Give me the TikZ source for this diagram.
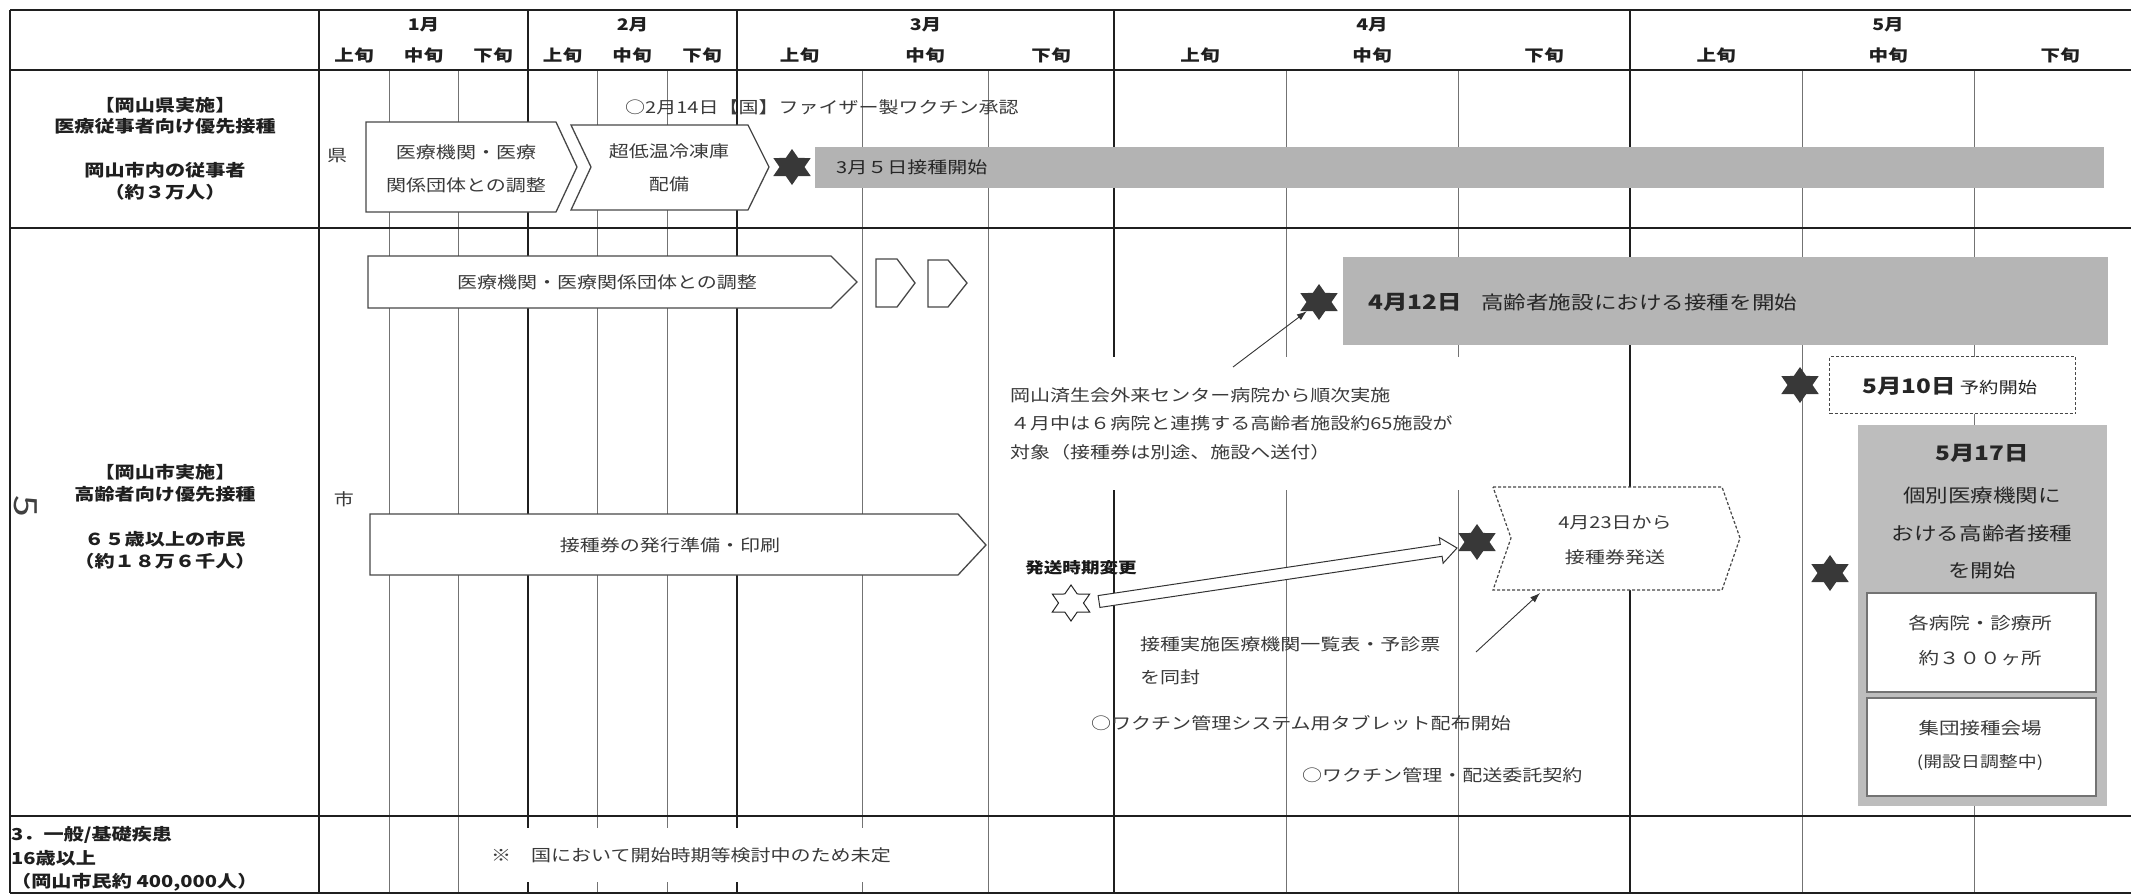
\documentclass[tikz,border=0pt]{standalone}
\usepackage{fontspec}
\setmainfont{Noto Sans CJK JP}[FakeStretch=1.22]
\usetikzlibrary{shapes.geometric,calc,arrows.meta}
\definecolor{barfill}{HTML}{B3B3B3}
\definecolor{boxtwo}{HTML}{B5B5B5}
\definecolor{boxthree}{HTML}{BDBDBD}
\definecolor{txtg}{HTML}{3A3A3A}
\definecolor{starc}{HTML}{383838}
\begin{document}
\begin{tikzpicture}[x=1pt,y=-1pt,
  hline/.style={line width=2.4pt, black!88},
  mline/.style={line width=2pt, black!88},
  sline/.style={line width=0.9pt, black!55},
  hdr/.style={inner sep=0pt, font=\fontsize{16}{18}\selectfont\bfseries, text=black!88},
  lbl/.style={inner sep=0pt, font=\fontsize{16.5}{20}\selectfont\bfseries, text=black!88},
  plain/.style={inner sep=0pt, font=\fontsize{16.4}{20}\selectfont, text=txtg},
  note/.style={inner sep=0pt, font=\fontsize{16.4}{20}\selectfont, text=txtg, anchor=west},
  chev/.style={draw=black!72, line width=1.3pt, fill=white, line join=miter},
  dashchev/.style={draw=black!72, line width=1.2pt, fill=white, dash pattern=on 3pt off 2pt},
  chevtxt/.style={inner sep=0pt, font=\fontsize{16.4}{33}\selectfont, text=txtg, align=center},
  hexstar/.style={star, star points=6, star point ratio=1.73, minimum size=36pt, inner sep=0pt, fill=starc, xscale=1.2},
  boxnode/.style={inner sep=0pt, anchor=north west},
  inbox/.style={boxnode, draw=black!55, line width=1.6pt, fill=white},
  bigtxt/.style={inner sep=0pt, font=\fontsize{18.5}{22}\selectfont, text=black!85},
  datetxt/.style={inner sep=0pt, font=\fontsize{20}{24}\selectfont\bfseries, text=black!85},
  thinarrow/.style={-{Latex[length=10pt,width=7pt]}, line width=0.9pt, black!80}
]
\useasboundingbox (0,0) rectangle (2131,895);
\fill[white] (0,0) rectangle (2131,895);

% ---------- table grid ----------
\foreach \x in {389,458,597,667,862,988,1286,1458,1802,1974}
  \draw[sline] (\x,70) -- (\x,893);
\foreach \x in {10,319,528,737,1114,1630}
  \draw[mline] (\x,10) -- (\x,893);
\foreach \y in {10,70,228,816,893}
  \draw[hline] (10,\y) -- (2131,\y);

% ---------- header ----------
\node[hdr] (m1) at (423.5,25) {1月};
\node[hdr] (m2) at (632.5,25) {2月};
\node[hdr] (m3) at (925.5,25) {3月};
\node[hdr] (m4) at (1372,25) {4月};
\node[hdr] (m5) at (1888,25) {5月};
\foreach \x/\t [count=\i] in {354/上旬,423.5/中旬,493/下旬,562.5/上旬,632/中旬,702/下旬,
   799.5/上旬,925/中旬,1051/下旬,1200/上旬,1372/中旬,1544/下旬,1716/上旬,1888/中旬,2060/下旬}
  \node[hdr] (j\i) at (\x,55) {\t};

% ---------- row labels ----------
\node[lbl] (r1a) at (165,105) {【岡山県実施】};
\node[lbl] (r1b) at (165,126) {医療従事者向け優先接種};
\node[lbl] (r1c) at (165,170) {岡山市内の従事者};
\node[lbl] (r1d) at (165,192) {（約３万人）};
\node[lbl] (r2a) at (165,472) {【岡山市実施】};
\node[lbl] (r2b) at (165,494) {高齢者向け優先接種};
\node[lbl] (r2c) at (165,539) {６５歳以上の市民};
\node[lbl] (r2d) at (165,561) {（約１８万６千人）};
\node[lbl, anchor=west] (r3a) at (11,835) {3．一般/基礎疾患};
\node[lbl, anchor=west] (r3b) at (11,858) {16歳以上};
\node[lbl, anchor=west] (r3c) at (11,882) {（岡山市民約 400,000人）};
\node[inner sep=0pt, rotate=-90, font=\fontsize{32}{32}\selectfont, text=black!75] (pg) at (26,506) {5};

% ---------- row 1 ----------
\node[plain] (ken) at (337,156) {県};
\node[note] (n214) at (625,107) {○2月14日【国】ファイザー製ワクチン承認};
\draw[chev] (366,122) -- (556,122) -- (577,167) -- (556,212) -- (366,212) -- cycle;
\node[chevtxt] (c1) at (466,168.5) {医療機関・医療\\関係団体との調整};
\draw[chev] (571,125) -- (748,125) -- (769,167) -- (748,210) -- (571,210) -- (591,167) -- cycle;
\node[chevtxt] (c2) at (669,168) {超低温冷凍庫\\配備};
\node[hexstar] (s1) at (792,167) {};
\node[boxnode, fill=barfill, minimum width=1289pt, minimum height=41pt] (bar1) at (815,147) {};
\node[note, text=black!85] (bar1t) at (836,167) {3月５日接種開始};

% ---------- row 2 ----------
\draw[chev] (368,256) -- (831,256) -- (857,282) -- (831,308) -- (368,308) -- cycle;
\node[chevtxt] (c3) at (607,282) {医療機関・医療関係団体との調整};
\draw[chev] (876,259) -- (897,259) -- (915,283) -- (897,307) -- (876,307) -- cycle;
\draw[chev] (928,260) -- (948,260) -- (967,283) -- (948,307) -- (928,307) -- cycle;
\node[plain] (shi) at (344,499) {市};
\draw[chev] (370,514) -- (958,514) -- (986,545) -- (958,575) -- (370,575) -- cycle;
\node[chevtxt] (c4) at (670,545) {接種券の発行準備・印刷};

% box 2 : 4/12
\node[boxnode, fill=boxtwo, minimum width=765pt, minimum height=88pt] (g2) at (1343,257) {};
\node[datetxt, anchor=west] (g2a) at (1368,302) {4月12日};
\node[bigtxt, anchor=west] (g2b) at (1481,302) {高齢者施設における接種を開始};
\node[hexstar] (s2) at (1319,302) {};

% note block
\node[note, fill=white, align=left, minimum height=133pt, inner xsep=7pt,
      font=\fontsize{16.4}{28.5}\selectfont] (t1) at (1003,423.5)
  {岡山済生会外来センター病院から順次実施\\４月中は６病院と連携する高齢者施設約65施設が\\対象（接種券は別途、施設へ送付）};
\coordinate (a1s) at (1233,367);
\draw[thinarrow] (a1s) -- (s2);

% 5/10 dashed box
\node[boxnode, draw=black!72, line width=1.2pt, dash pattern=on 3pt off 2pt, fill=white,
      minimum width=246pt, minimum height=57pt] (d1) at (1829,356) {};
\node[datetxt] (d1a) at (1909,386) {5月10日};
\node[plain, text=black!85, font=\fontsize{15.8}{18}\selectfont] (d1b) at (1998.5,388) {予約開始};
\node[hexstar] (s3) at (1800,385) {};

% box 3 : 5/17
\node[boxnode, fill=boxthree, minimum width=249pt, minimum height=381pt] (g3) at (1858,425) {};
\node[datetxt] (g3a) at (1982,453) {5月17日};
\node[bigtxt] (g3b) at (1982,495) {個別医療機関に};
\node[bigtxt] (g3c) at (1982,533) {おける高齢者接種};
\node[bigtxt] (g3d) at (1982,570) {を開始};
\node[inbox, minimum width=229pt, minimum height=99pt] (ba) at (1866,592) {};
\node[inbox, minimum width=229pt, minimum height=98pt] (bb) at (1866,697) {};
\node[plain, font=\fontsize{16.8}{20}\selectfont] (bat1) at (1980,623) {各病院・診療所};
\node[plain, font=\fontsize{16.8}{20}\selectfont] (bat2) at (1980,658) {約３００ヶ所};
\node[plain, font=\fontsize{16.8}{20}\selectfont] (bbt1) at (1980,728) {集団接種会場};
\node[plain, font=\fontsize{15.5}{20}\selectfont] (bbt2) at (1980,762) {(開設日調整中)};
\node[hexstar] (s4) at (1830,573) {};

% dashed chevron 4/23
\draw[dashchev] (1493,487) -- (1722,487) -- (1740,538) -- (1722,590) -- (1493,590) -- (1511,538) -- cycle;
\node[plain] (dc1) at (1615,523) {4月23日から};
\node[plain] (dc2) at (1615,557) {接種券発送};
\node[hexstar] (s5) at (1477,542) {};

% hollow star and block arrow
\node[hexstar, fill=white, draw=black!85, line width=1pt] (hs) at (1071,603) {};
\node[inner sep=0pt, font=\fontsize{15.2}{18}\selectfont\bfseries, text=black!90] (hk) at (1081,568) {発送時期変更};
\coordinate (bat) at (1099,601.5);
\coordinate (bah) at (1457,548);
\draw[draw=black!80, line width=1pt, fill=white, line join=miter]
  ($(bat)!6pt!90:(bah)$) -- ($($(bah)!16pt!(bat)$)!6pt!-90:(bat)$)
  -- ($($(bah)!16pt!(bat)$)!13pt!-90:(bat)$) -- (bah)
  -- ($($(bah)!16pt!(bat)$)!13pt!90:(bat)$)
  -- ($($(bah)!16pt!(bat)$)!6pt!90:(bat)$) -- ($(bat)!6pt!-90:(bah)$) -- cycle;

% notes lower
\node[note, align=left, font=\fontsize{16.4}{33}\selectfont] (t2) at (1140,660.5) {接種実施医療機関一覧表・予診票\\を同封};
\coordinate (a2s) at (1476,652);
\coordinate (a2e) at (1540,593);
\draw[thinarrow] (a2s) -- (a2e);
\node[note] (t3) at (1091,723) {○ワクチン管理システム用タブレット配布開始};
\node[note] (t4) at (1302,775) {○ワクチン管理・配送委託契約};

% ---------- row 3 ----------
\node[note, fill=white, inner xsep=6pt, minimum height=54pt] (r3n) at (485,855) {※　国において開始時期等検討中のため未定};
\end{tikzpicture}
\end{document}
